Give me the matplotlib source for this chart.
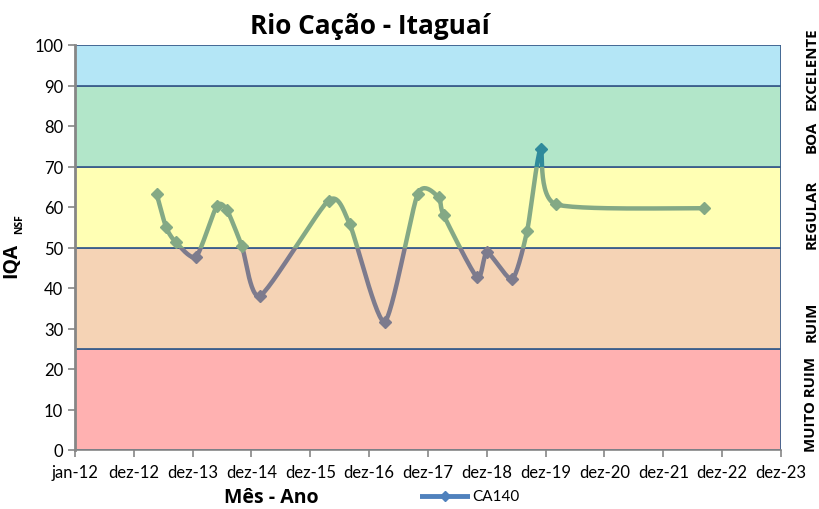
import matplotlib
matplotlib.use('Agg')
import matplotlib.pyplot as plt
import matplotlib.dates as mdates
from matplotlib.patches import Rectangle
import numpy as np
from datetime import date

plt.rcParams['font.family'] = ['Lato', 'DejaVu Sans']
NEGRITO = ['Open Sans', 'DejaVu Sans']

# dados (CA140)
datas = ['2013-05-22', '2013-07-19', '2013-09-17', '2014-01-21', '2014-05-29',
         '2014-07-31', '2014-11-01', '2015-02-23', '2016-04-22', '2016-08-31',
         '2017-04-05', '2017-10-27', '2018-03-06', '2018-04-06', '2018-10-31',
         '2019-01-01', '2019-06-05', '2019-09-06', '2019-11-28', '2020-03-01',
         '2022-09-06']
iqa = [63.2, 55.0, 51.3, 47.7, 60.2, 59.3, 50.4, 38.1, 61.6, 55.8,
       31.7, 63.2, 62.4, 58.0, 42.6, 48.8, 42.2, 54.1, 74.2, 60.7, 59.7]

faixas = [(0, 25, '#FFB1B1'), (25, 50, '#F5D3B5'), (50, 70, '#FFFFB4'),
          (70, 90, '#B2E6C9'), (90, 100, '#B4E6F6')]
nomes_faixas = ['MUITO RUIM', 'RUIM', 'REGULAR', 'BOA', 'EXCELENTE']
pos_nomes = [11.5, 32, 58.5, 77.5, 94.5]

tick_labels = ['jan-12'] + ['dez-%d' % a for a in range(12, 24)]

x = mdates.date2num([date.fromisoformat(d) for d in datas])
y = np.array(iqa)
x0 = mdates.date2num(date(2012, 1, 1))
ticks = [x0 + 365 * k for k in range(13)]


def catmull_rom(px, py, n=30):
    # suavizacao parecida com a linha suavizada do Excel
    px = np.concatenate([[px[0]], px, [px[-1]]])
    py = np.concatenate([[py[0]], py, [py[-1]]])
    xs, ys = [], []
    t = np.linspace(0, 1, n)
    for i in range(1, len(px) - 2):
        for arr, out in ((px, xs), (py, ys)):
            p0, p1, p2, p3 = arr[i - 1], arr[i], arr[i + 1], arr[i + 2]
            m1 = (p2 - p0) / 2 / 1.5
            m2 = (p3 - p1) / 2 / 1.5
            h00 = 2 * t**3 - 3 * t**2 + 1
            h10 = t**3 - 2 * t**2 + t
            h01 = -2 * t**3 + 3 * t**2
            h11 = t**3 - t**2
            out.extend(h00 * p1 + h10 * m1 + h01 * p2 + h11 * m2)
    return np.array(xs), np.array(ys)


fig = plt.figure(figsize=(8.19, 5.10), dpi=100)
ax = fig.add_axes([75 / 819, 1 - 451 / 510, 706 / 819, 405 / 510])

for lo, hi, cor in faixas:
    ax.axhspan(lo, hi, facecolor=cor, edgecolor='#3B5E8C', linewidth=1.3, zorder=1)

sx, sy = catmull_rom(x, y)
cores_linha = [(-10, 50, '#7D7B8D'), (50, 70, '#84A985'), (70, 110, '#2F8A9B')]
for lo, hi, cor in cores_linha:
    ln, = ax.plot(sx, sy, color=cor, linewidth=3.2, solid_capstyle='round', zorder=3)
    ln.set_clip_path(Rectangle((x0 - 1000, lo), 10000, hi - lo, transform=ax.transData))
    sel = (y >= lo) & (y < hi)
    ax.plot(x[sel], y[sel], linestyle='none', marker='D', markersize=6,
            color=cor, zorder=4, clip_on=False)

ax.set_xlim(ticks[0], ticks[-1])
ax.set_ylim(0, 100)
ax.set_xticks(ticks)
ax.set_xticklabels(tick_labels)
ax.set_yticks(range(0, 101, 10))
ax.tick_params(axis='both', labelsize=12, color='#868686', length=5, width=1.2)
ax.tick_params(axis='x', pad=5)
for s in ['top', 'right']:
    ax.spines[s].set_visible(False)
ax.spines['left'].set_color('#868686')
ax.spines['left'].set_linewidth(2)
ax.spines['left'].set_zorder(5)
ax.spines['bottom'].set_color('#868686')
ax.spines['bottom'].set_linewidth(1.2)

for nome, yy in zip(nomes_faixas, pos_nomes):
    ax.text(1.043, yy, nome, transform=ax.get_yaxis_transform(), rotation=90,
            ha='center', va='center', fontsize=10.8, fontweight='bold', family=NEGRITO)

fig.text(370 / 819, 1 - 26 / 510, 'Rio Cação - Itaguaí', ha='center', va='center',
         fontsize=18.8, fontweight='bold', family=NEGRITO)
fig.text(11 / 819, 1 - 260 / 510, 'IQA', rotation=90, ha='center', va='center',
         fontsize=14, fontweight='bold', family=NEGRITO)
fig.text(20 / 819, 1 - 224 / 510, 'NSF', rotation=90, ha='center', va='center',
         fontsize=7.5, fontweight='bold', family=NEGRITO)
fig.text(271 / 819, 1 - 498 / 510, 'Mês - Ano', ha='center', va='center',
         fontsize=14, fontweight='bold', family=NEGRITO)

# legenda
lax = fig.add_axes([420 / 819, 1 - 505 / 510, 50 / 819, 16 / 510])
lax.plot([0, 1], [0.5, 0.5], color='#4F81BD', linewidth=3.5)
lax.plot([0.5], [0.5], marker='D', markersize=5, color='#4F81BD')
lax.set_xlim(0, 1)
lax.set_ylim(0, 1)
lax.axis('off')
fig.text(472 / 819, 1 - 497 / 510, 'CA140', ha='left', va='center', fontsize=11)

fig.savefig('out.png', dpi=100)
